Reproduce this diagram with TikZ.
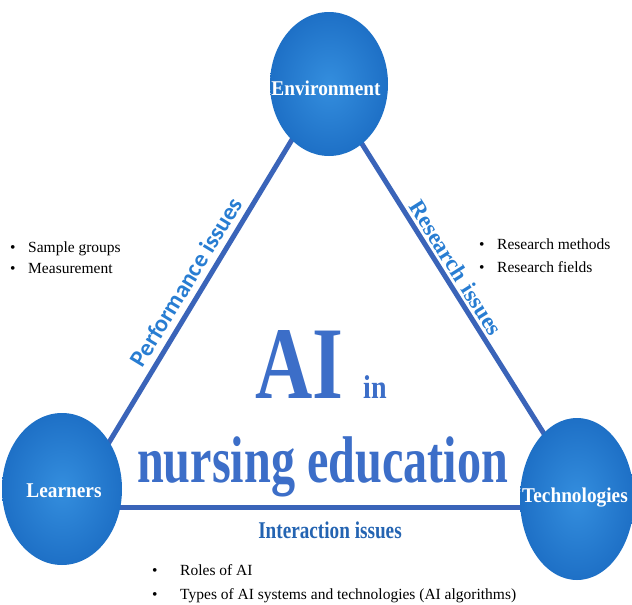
\documentclass[tikz,border=0pt]{standalone}
\usepackage{fontspec}
\setmainfont{Liberation Serif}
\newfontfamily\calibfont{Carlito}
\usepackage{graphicx}
\usetikzlibrary{shapes.geometric}
\definecolor{hubin}{RGB}{52,142,222}
\definecolor{hubout}{RGB}{30,112,198}
\definecolor{linec}{RGB}{58,100,185}
\definecolor{bigc}{RGB}{60,110,200}
\definecolor{edgec}{RGB}{40,125,210}
\definecolor{interc}{RGB}{36,100,178}
\newcommand{\cond}[2]{\scalebox{#1}[1]{#2}}
\tikzset{
  hub/.style={ellipse, inner sep=0pt, shading=radial, inner color=hubin, outer color=hubout},
  hubtext/.style={anchor=base, text=white, inner sep=0pt, font=\fontsize{21}{21}\selectfont\bfseries},
  side/.style={draw=linec, line width=5pt},
  big/.style={anchor=base west, text=bigc, inner sep=0pt, font=\bfseries},
  edgelabel/.style={text=edgec, inner sep=0pt},
  bul/.style={anchor=base west, inner sep=0pt, text=black, font=\fontsize{15.5}{15.5}\selectfont}
}
\begin{document}
\begin{tikzpicture}[x=1pt,y=-1pt]
\useasboundingbox (0,0) rectangle (632,605);
\fill[white] (0,0) rectangle (632,605);
% triangle corners
\coordinate (A) at (325,85);
\coordinate (B) at (70,507);
\coordinate (C) at (590,507);
\draw[side] (A) -- (B);
\draw[side] (A) -- (C);
\draw[side] (B) -- (C);
% hubs
\node[hub, minimum width=118pt, minimum height=144pt] (env) at (329,84) {};
\node[hub, minimum width=120pt, minimum height=152pt] (learn) at (62,489) {};
\node[hub, minimum width=114pt, minimum height=162pt] (tech) at (577,499) {};
\node[hubtext] (envt) at (326,95) {\cond{0.92}{Environment}};
\node[hubtext] (learnt) at (64,497) {\cond{0.92}{Learners}};
\node[hubtext] (techt) at (575,502) {\cond{0.92}{Technologies}};
% central title
\node[big, font=\fontsize{103}{103}\selectfont\bfseries] (ai) at (255,398) {\cond{0.77}{AI}};
\node[big, font=\fontsize{33}{33}\selectfont\bfseries] (in) at (363,398) {\cond{0.85}{in}};
\node[big, font=\fontsize{66}{66}\selectfont\bfseries] (nurse) at (137,482) {\cond{0.73}{nursing education}};
% edge labels
\node[edgelabel, rotate=58.6, font=\calibfont\fontsize{24}{24}\selectfont\bfseries] (perf) at (186,282) {Performance issues};
\node[edgelabel, rotate=-57.8, font=\fontsize{23}{23}\selectfont\bfseries] (res) at (456,268) {Research\hspace{2pt} issues};
\node[anchor=base, inner sep=0pt, text=interc, font=\fontsize{24}{24}\selectfont\bfseries] (inter) at (330,538) {\cond{0.8}{Interaction issues}};
% bullet lists
\node[bul] (b1) at (10,252) {\textbullet\hspace{12.6pt}Sample groups};
\node[bul] (b2) at (10,273) {\textbullet\hspace{12.6pt}Measurement};
\node[bul] (b3) at (479,249) {\textbullet\hspace{12.6pt}Research methods};
\node[bul] (b4) at (479,272) {\textbullet\hspace{12.6pt}Research fields};
\node[bul] (b5) at (152,575) {\textbullet\hspace{22.6pt}Roles of AI};
\node[bul] (b6) at (152,599) {\textbullet\hspace{22.6pt}Types of AI systems and technologies (AI algorithms)};
\end{tikzpicture}
\end{document}
